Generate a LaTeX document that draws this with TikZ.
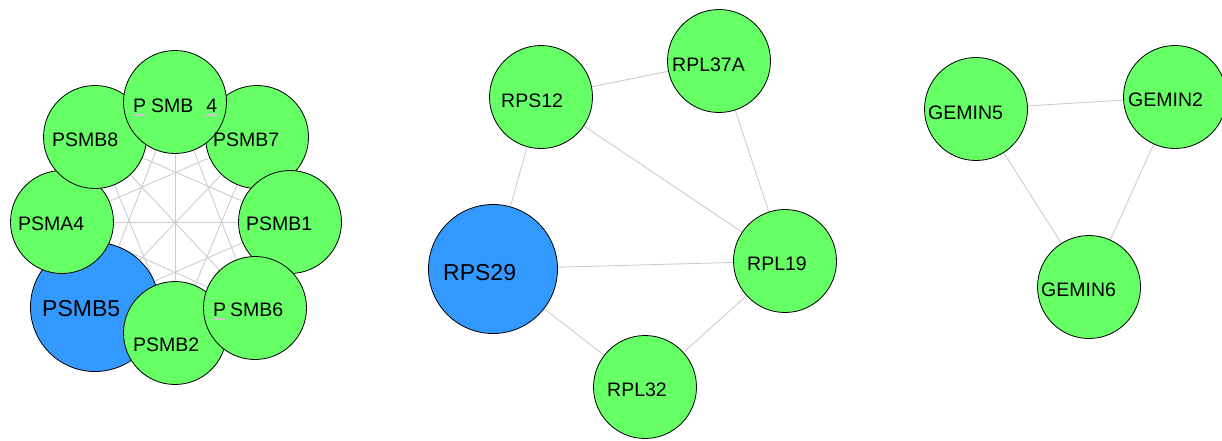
\documentclass[tikz,border=0pt]{standalone}
\usepackage{fontspec}
\setmainfont{Liberation Sans}
\usetikzlibrary{backgrounds}
\definecolor{gn}{HTML}{66FF66}
\definecolor{bl}{HTML}{3399FF}
\definecolor{edgec}{HTML}{CCCCCC}
\definecolor{barc}{HTML}{C8C8C8}
\newsavebox{\barbox}
\newcommand{\barred}[1]{\sbox{\barbox}{#1}\rlap{\textcolor{barc}{\rule[-3.5pt]{\wd\barbox}{1.5pt}}}\usebox{\barbox}}
\tikzset{
  gnode/.style={circle, draw=black, line width=0.8pt, fill=gn, minimum size=103pt, inner sep=0pt},
  bnode/.style={circle, draw=black, line width=0.8pt, fill=bl, minimum size=129pt, inner sep=0pt},
  lbl/.style={anchor=base west, inner sep=0pt, font=\fontsize{19.5}{20}\selectfont},
  blbl/.style={anchor=base west, inner sep=0pt, font=\fontsize{23}{24}\selectfont},
  edge/.style={draw=edgec, line width=0.9pt}
}
\begin{document}
\begin{tikzpicture}[x=1pt,y=-1pt]
\useasboundingbox (0,0) rectangle (1222,440);
% left cluster
\node[bnode] (psmb5) at (95,307) {};
\node[gnode] (psma4) at (62,222) {};
\node[gnode] (psmb8) at (95,137) {};
\node[gnode] (psmb7) at (257,137) {};
\node[gnode] (psmb4) at (175,102) {};
\node[gnode] (psmb1) at (290,222) {};
\node[gnode] (psmb2) at (175,333) {};
\node[gnode] (psmb6) at (255,308) {};
% middle cluster
\node[gnode] (rps12) at (541,97) {};
\node[gnode] (rpl37a) at (719,61) {};
\node[bnode] (rps29) at (493,269) {};
\node[gnode] (rpl19) at (785,261) {};
\node[gnode] (rpl32) at (645,387) {};
% right cluster
\node[gnode] (gemin5) at (976,109) {};
\node[gnode] (gemin2) at (1175,97) {};
\node[gnode] (gemin6) at (1089,287) {};
% labels
\node[lbl] (t4) at (133,112) {\barred{P}\hspace{5pt}SMB\hspace{13pt}\barred{4}};
\node[lbl] (t8) at (52,146) {PSMB8};
\node[lbl] (t7) at (213,146) {PSMB7};
\node[lbl] (ta4) at (18,230) {PSMA4};
\node[lbl] (t1) at (246,230) {PSMB1};
\node[lbl] (t6) at (213,316) {\barred{P}\hspace{4pt}SMB6};
\node[lbl] (t2) at (133,351) {PSMB2};
\node[blbl] (t5) at (42,316) {PSMB5};
\node[lbl] (tr12) at (501,107) {RPS12};
\node[lbl] (tr37) at (672,71) {RPL37A};
\node[blbl] (tr29) at (443,280) {RPS29};
\node[lbl] (tr19) at (747,270) {RPL19};
\node[lbl] (tr32) at (607,396) {RPL32};
\node[lbl] (tg5) at (928,119) {GEMIN5};
\node[lbl] (tg2) at (1128,106) {GEMIN2};
\node[lbl] (tg6) at (1041,296) {GEMIN6};
\begin{pgfonlayer}{background}
\foreach \a/\b in {psmb4/psmb7,psmb4/psmb1,psmb4/psmb6,psmb4/psmb2,psmb4/psmb5,psmb4/psma4,psmb4/psmb8,
  psmb7/psmb1,psmb7/psmb6,psmb7/psmb2,psmb7/psmb5,psmb7/psma4,psmb7/psmb8,
  psmb1/psmb6,psmb1/psmb2,psmb1/psmb5,psmb1/psma4,psmb1/psmb8,
  psmb6/psmb2,psmb6/psmb5,psmb6/psma4,psmb6/psmb8,
  psmb2/psmb5,psmb2/psma4,psmb2/psmb8,
  psmb5/psma4,psmb5/psmb8,
  psma4/psmb8,
  rps12/rpl37a,rps12/rpl19,rps12/rps29,rpl37a/rpl19,rps29/rpl19,rps29/rpl32,rpl32/rpl19,
  gemin5/gemin2,gemin5/gemin6,gemin2/gemin6}
  \draw[edge] (\a) -- (\b);
\end{pgfonlayer}
\end{tikzpicture}
\end{document}
